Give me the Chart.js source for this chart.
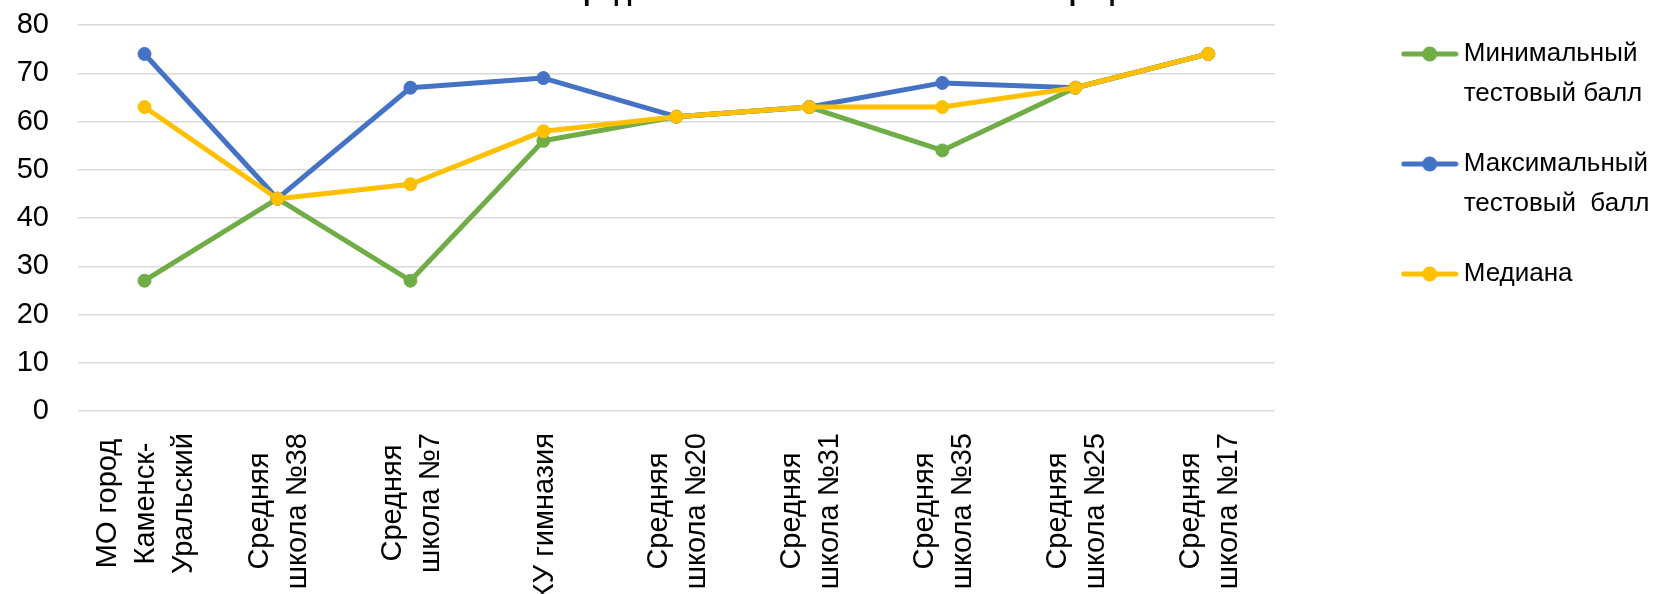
<!DOCTYPE html>
<html>
<head>
<meta charset="utf-8">
<script src="https://cdn.jsdelivr.net/npm/chart.js@4/dist/chart.umd.min.js"></script>
<style>
  html, body { margin: 0; padding: 0; background: #fff; overflow: hidden; }
  #wrap { width: 1677px; height: 594px; overflow: hidden; }
  canvas { display: block; }
</style>
</head>
<body>
<div id="wrap"><canvas id="c" width="1677" height="594"></canvas></div>
<script>
// ---- data ----
const categories = [
  ["МО город", "Каменск-", "Уральский"],
  ["Средняя", "школа №38"],
  ["Средняя", "школа №7"],
  ["МКУ гимназия"],
  ["Средняя", "школа №20"],
  ["Средняя", "школа №31"],
  ["Средняя", "школа №35"],
  ["Средняя", "школа №25"],
  ["Средняя", "школа №17"]
];
const minScores = [27, 44, 27, 56, 61, 63, 54, 67, 74];
const maxScores = [74, 44, 67, 69, 61, 63, 68, 67, 74];
const medianScores = [63, 44, 47, 58, 61, 63, 63, 67, 74];
const seriesNames = [
  ["Минимальный", "тестовый балл"],
  ["Максимальный", "тестовый  балл"],
  ["Медиана"]
];
const yTicks = [0, 10, 20, 30, 40, 50, 60, 70, 80];
const chartTitle = "Распределение тестовых баллов по географии";

// ---- styling ----
const FONT = "'Liberation Sans', Arial, sans-serif";
const FS_LEG = 26;
const FS_X = 29;
const FS_Y = 29;
const colors = ["#70AD47", "#4472C4", "#FFC000"];

function makeIcon(color) {
  const cv = document.createElement('canvas');
  cv.width = 58; cv.height = 18;
  const g = cv.getContext('2d');
  g.strokeStyle = color; g.lineWidth = 5; g.lineCap = 'round';
  g.beginPath(); g.moveTo(3, 9); g.lineTo(55, 9); g.stroke();
  g.fillStyle = color;
  g.beginPath(); g.arc(29, 9, 7.5, 0, Math.PI * 2); g.fill();
  return cv;
}
const icons = colors.map(makeIcon);

// legend geometry
const LEG_PAD = 30, LEG_BOX = 42;
const TEXT_X = 1460;
const targetLegendLeft = TEXT_X - FS_LEG / 2 - LEG_BOX - LEG_PAD;
const plotRight = 1271;
const plotTop = 25;

const titlePlugin = {
  id: 'cutTitle',
  afterDraw(chart) {
    const ctx = chart.ctx;
    ctx.save();
    ctx.font = "bold 27px " + FONT;
    ctx.fillStyle = '#000';
    ctx.textAlign = 'center';
    ctx.textBaseline = 'alphabetic';
    ctx.fillText(chartTitle, 838, 0);
    ctx.restore();
  }
};

const xLabelPlugin = {
  id: 'xLabels',
  afterDraw(chart) {
    const ctx = chart.ctx;
    const xs = chart.scales.x;
    const axisY = chart.chartArea.bottom;
    ctx.save();
    ctx.font = FS_X + "px " + FONT;
    ctx.fillStyle = '#000';
    ctx.textAlign = 'center';
    ctx.textBaseline = 'alphabetic';
    categories.forEach((lines, i) => {
      const cx = xs.getPixelForValue(i);
      const maxW = Math.max(...lines.map(l => ctx.measureText(l).width));
      const yc = axisY + 22 + maxW / 2;
      const n = lines.length;
      lines.forEach((line, j) => {
        const lx = cx + (j - (n - 1) / 2) * 38;
        ctx.save();
        ctx.translate(lx, yc);
        ctx.rotate(-Math.PI / 2);
        ctx.fillText(line, 0, 10);
        ctx.restore();
      });
    });
    ctx.restore();
  }
};

function ds(label, data, color, order) {
  return {
    label, data,
    borderColor: color, backgroundColor: color,
    borderWidth: 5, borderJoinStyle: 'round', borderCapStyle: 'round',
    pointRadius: 6.5, pointBorderWidth: 1, pointBorderColor: color, pointBackgroundColor: color,
    tension: 0, order
  };
}

const chart = new Chart(document.getElementById('c'), {
  type: 'line',
  data: {
    labels: categories,
    datasets: [
      ds(seriesNames[0].join(' '), minScores, colors[0], 3),
      ds(seriesNames[1].join(' '), maxScores, colors[1], 2),
      ds(seriesNames[2].join(' '), medianScores, colors[2], 1)
    ]
  },
  options: {
    responsive: false,
    animation: false,
    devicePixelRatio: 1,
    layout: { padding: { left: 0, top: 4, bottom: 0, right: 0 } },
    plugins: {
      tooltip: { enabled: false },
      title: { display: false },
      legend: {
        display: true,
        position: 'right',
        align: 'start',
        title: { display: true, text: ' ', font: { size: 7, lineHeight: 1 }, padding: 0 },
        labels: {
          usePointStyle: true,
          pointStyleWidth: LEG_BOX,
          boxHeight: FS_LEG,
          padding: LEG_PAD,
          color: '#000',
          font: { family: FONT, size: FS_LEG, lineHeight: 40 / FS_LEG },
          generateLabels: (ch) => ch.data.datasets.map((d, i) => ({
            text: seriesNames[i],
            fillStyle: colors[i],
            strokeStyle: colors[i],
            lineWidth: 0,
            pointStyle: icons[i],
            fontColor: '#000',
            hidden: false,
            datasetIndex: i
          }))
        }
      }
    },
    scales: {
      x: {
        type: 'category',
        offset: true,
        grid: { display: false, drawTicks: false },
        border: { display: false },
        ticks: { display: false },
        afterFit: (s) => { s.height = 594 - 411; }
      },
      y: {
        type: 'linear',
        position: 'left',
        min: yTicks[0],
        max: yTicks[yTicks.length - 1],
        afterBuildTicks: (s) => { s.ticks = yTicks.map(v => ({ value: v })); },
        grid: { color: '#d9d9d9', lineWidth: 1.5, drawTicks: false },
        border: { display: false },
        ticks: {
          padding: 29,
          color: '#000',
          font: { family: FONT, size: FS_Y }
        },
        afterFit: (s) => { s.width = 78; s.paddingTop = plotTop; s.paddingBottom = 0; }
      },
      yR: {
        type: 'linear',
        position: 'right',
        display: true,
        grid: { display: false, drawTicks: false },
        border: { display: false },
        ticks: { display: false },
        afterFit: (s) => { s.width = targetLegendLeft - plotRight; }
      }
    }
  },
  plugins: [xLabelPlugin, titlePlugin]
});

// align legend to target position
const delta = chart.legend.left - targetLegendLeft;
if (Math.abs(delta) > 0.5) {
  chart.options.layout.padding.right = delta;
  chart.update();
}
</script>
</body>
</html>
